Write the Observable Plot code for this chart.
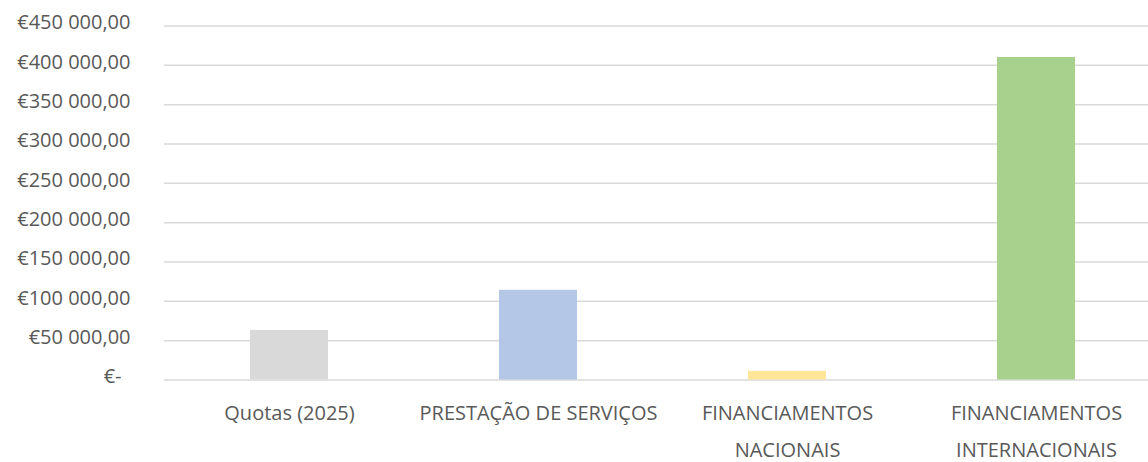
<!DOCTYPE html>
<html>
<head>
<meta charset="utf-8">
<script src="https://cdn.jsdelivr.net/npm/d3@7"></script>
<script src="https://cdn.jsdelivr.net/npm/@observablehq/plot@0.6"></script>
<style>
  html, body { margin: 0; padding: 0; background: #fff; overflow: hidden; }
</style>
</head>
<body>
<div id="chart"></div>
<script>
const categories = ["Quotas (2025)", "PRESTAÇÃO DE SERVIÇOS", "FINANCIAMENTOS NACIONAIS", "FINANCIAMENTOS INTERNACIONAIS"];
const categoryLabels = ["Quotas (2025)", "PRESTAÇÃO DE SERVIÇOS", "FINANCIAMENTOS\nNACIONAIS", "FINANCIAMENTOS\nINTERNACIONAIS"];
const values = [63000, 114000, 11000, 410000];
const colors = ["#d9d9d9", "#b4c7e7", "#ffe699", "#a9d18e"];
const yTicks = [0, 50000, 100000, 150000, 200000, 250000, 300000, 350000, 400000, 450000];

const data = categories.map((c, i) => ({category: c, value: values[i], color: colors[i]}));

const locale = d3.formatLocale({decimal: ",", thousands: " ", grouping: [3], currency: ["€", ""]});
const fmt = locale.format("$,.2f");
const labelOf = new Map(categories.map((c, i) => [c, categoryLabels[i]]));

const font = "'Open Sans', sans-serif";

const chart = Plot.plot({
  width: 1148,
  height: 462,
  marginTop: 25.5,
  marginBottom: 82.5,
  marginLeft: 164,
  marginRight: 0,
  style: {fontFamily: font, fontSize: "20px", color: "#595959", background: "#fff"},
  x: {domain: categories, range: [164, 1160], paddingInner: 0.687, paddingOuter: 0.3435, label: null},
  y: {domain: [0, 450000], label: null},
  marks: [
    Plot.ruleY(yTicks, {stroke: "#d9d9d9", strokeWidth: 1.5}),
    Plot.barY(data, {x: "category", y: "value", fill: "color"}),
    Plot.axisY(yTicks.filter(d => d !== 0), {tickSize: 0, tickPadding: 34, tickFormat: fmt, dy: -3, fill: "#595959", fontSize: 20}),
    Plot.axisY([0], {tickSize: 0, tickPadding: 43, tickFormat: () => "€-", dy: -3, fill: "#595959", fontSize: 20}),
    Plot.axisX({tickSize: 0, tickPadding: 14, tickFormat: d => labelOf.get(d), lineHeight: 1.85, fill: "#595959", fontSize: 20})
  ]
});
document.getElementById("chart").appendChild(chart);
</script>
</body>
</html>
